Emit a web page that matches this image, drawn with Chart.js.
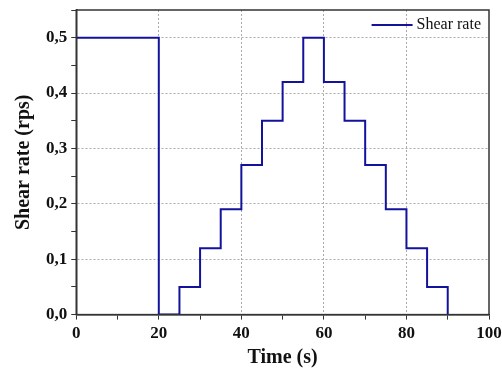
<!DOCTYPE html>
<html>
<head>
<meta charset="utf-8">
<script src="https://cdn.jsdelivr.net/npm/chart.js@4.4.0/dist/chart.umd.min.js"></script>
<style>
  html, body { margin: 0; padding: 0; background: #fff; }
  #wrap { width: 502px; height: 378px; }
</style>
</head>
<body>
<div id="wrap"><canvas id="box"></canvas></div>
<script>
// times where the shear rate changes, and the rate held from that time on
var times = [0, 20, 25, 30, 35, 40, 45, 50, 55, 60, 65, 70, 75, 80, 85, 90];
var rates = [0.5, 0, 0.05, 0.12, 0.19, 0.27, 0.35, 0.42, 0.5, 0.42, 0.35, 0.27, 0.19, 0.12, 0.05, 0];
var xTicks = [0, 20, 40, 60, 80, 100];
var yTicks = [0, 0.1, 0.2, 0.3, 0.4, 0.5];

var serif = "'Liberation Serif', 'Times New Roman', serif";
var lineColor = '#12129c';

var points = times.map(function (t, i) { return { x: t, y: rates[i] }; });

function isMajorX(v) { return xTicks.indexOf(v) >= 0; }
function isMajorY(v) { return yTicks.some(function (t) { return Math.abs(t - v) < 1e-6; }); }

// frame round the plot and the legend in the top right corner
var frame = {
    id: 'frame',
    afterDraw: function (chart) {
        var a = chart.chartArea, ctx = chart.ctx;
        ctx.save();
        ctx.strokeStyle = '#333';
        ctx.lineWidth = 1.5;
        ctx.strokeRect(a.left, a.top, a.right - a.left, a.bottom - a.top);

        var label = chart.data.datasets[0].label;
        ctx.font = '16px ' + serif;
        ctx.fillStyle = '#111';
        ctx.textBaseline = 'middle';
        ctx.textAlign = 'right';
        var tx = a.right - 8, ty = a.top + 15;
        ctx.fillText(label, tx, ty);
        var w = ctx.measureText(label).width;
        ctx.strokeStyle = lineColor;
        ctx.lineWidth = 2;
        ctx.beginPath();
        ctx.moveTo(tx - w - 45, ty);
        ctx.lineTo(tx - w - 4, ty);
        ctx.stroke();
        ctx.restore();
    }
};

var mychart = new Chart("box", {
    type: "line",
    data: {
        datasets: [{
            label: 'Shear rate',
            data: points,
            stepped: 'before',
            fill: false,
            borderColor: lineColor,
            backgroundColor: lineColor,
            borderWidth: 2,
            pointRadius: 0
        }]
    },
    options: {
        responsive: true,
        maintainAspectRatio: false,
        animation: false,
        layout: { padding: { top: 10, right: 13, left: 12, bottom: 10 } },
        plugins: {
            tooltip: { enabled: false },
            legend: { display: false }
        },
        scales: {
            x: {
                type: 'linear',
                min: 0,
                max: 100,
                afterFit: function (s) { s.paddingRight = 0; },
                ticks: {
                    stepSize: 10,
                    autoSkip: false,
                    maxRotation: 0,
                    color: '#111',
                    padding: 4,
                    font: { family: serif, size: 17, weight: 'bold' },
                    callback: function (v) { return isMajorX(v) ? String(v) : ''; }
                },
                grid: {
                    color: function (c) {
                        var v = c.tick ? c.tick.value : null;
                        return (v !== null && isMajorX(v) && v !== 0 && v !== 100) ? '#aaa' : 'rgba(0,0,0,0)';
                    },
                    tickColor: '#333',
                    tickLength: 5,
                    lineWidth: 1
                },
                border: { color: '#333', width: 1.5, dash: [2, 2] },
                title: {
                    display: true,
                    text: 'Time (s)',
                    color: '#111',
                    font: { family: serif, size: 20, weight: 'bold', lineHeight: 1 },
                    padding: { top: 0, bottom: 0 }
                }
            },
            y: {
                min: 0,
                max: 0.55,
                afterFit: function (s) { s.paddingTop = 0; },
                ticks: {
                    stepSize: 0.05,
                    autoSkip: false,
                    color: '#111',
                    padding: 4,
                    font: { family: serif, size: 17, weight: 'bold' },
                    callback: function (v) { return isMajorY(v) ? v.toFixed(1).replace('.', ',') : ''; }
                },
                grid: {
                    color: function (c) {
                        var v = c.tick ? c.tick.value : null;
                        return (v !== null && isMajorY(v) && v > 0.01) ? '#aaa' : 'rgba(0,0,0,0)';
                    },
                    tickColor: '#333',
                    tickLength: 5,
                    lineWidth: 1
                },
                border: { color: '#333', width: 1.5, dash: [2, 2] },
                title: {
                    display: true,
                    text: 'Shear rate (rps)',
                    color: '#111',
                    font: { family: serif, size: 20, weight: 'bold' },
                    padding: { top: 0, bottom: 6 }
                }
            }
        }
    },
    plugins: [frame]
});
</script>
</body>
</html>
